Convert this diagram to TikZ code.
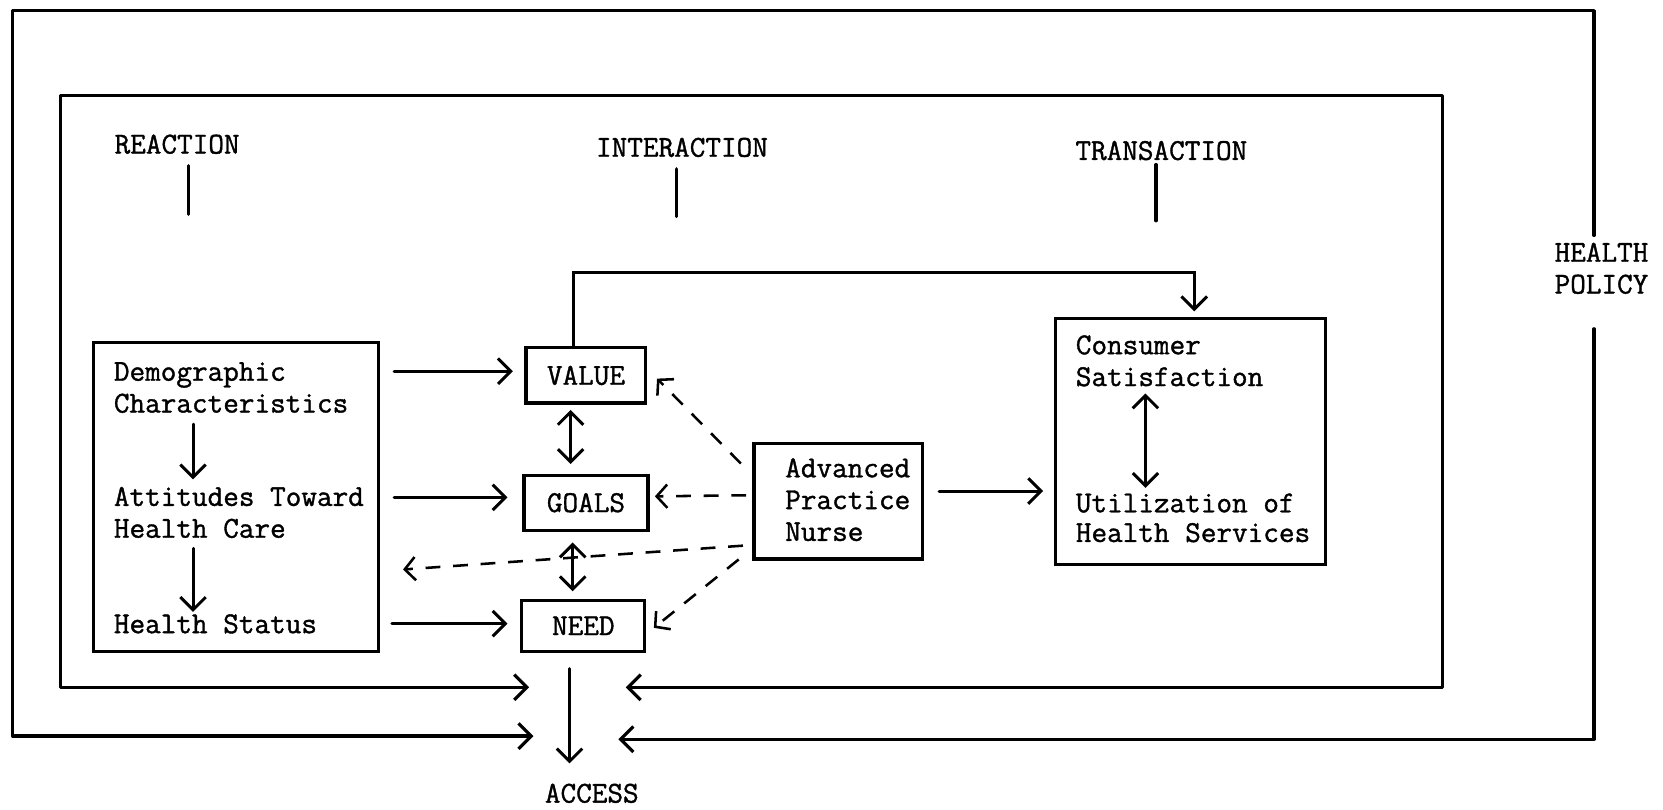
\documentclass[tikz,border=0pt]{standalone}
\usepackage{fontspec}
\setmonofont{Latin Modern Mono}[FakeBold=1.2]
\usetikzlibrary{arrows.meta,calc}
\begin{document}
\begin{tikzpicture}[x=0.5pt,y=-0.5pt,
  font=\ttfamily\fontsize{14.3}{15}\selectfont,
  frame/.style={line width=1.5pt, line join=round, line cap=round},
  box/.style={draw, line width=1.5pt, inner sep=0pt},
  txt/.style={anchor=base west, inner sep=0pt},
  arr/.style={line width=1.4pt, line cap=round, -{Straight Barb[length=6pt,width=12pt]}},
  darr/.style={line width=1.4pt, line cap=round, {Straight Barb[length=6pt,width=12pt]}-{Straight Barb[length=6pt,width=12pt]}},
  dsh/.style={line width=1.2pt, dash pattern=on 7pt off 6pt, -{Straight Barb[length=5pt,width=11pt]}}
]
\useasboundingbox (0,0) rectangle (1568,763);

% column labels
\node (reac) at (167,136) {REACTION};
\node (inter) at (643,139) {INTERACTION};
\node (trans) at (1095,142) {TRANSACTION};
\node[align=center] (hp) at (1510,253) {HEALTH\\POLICY};
\draw[frame] ($(reac.south)+(11,4)$) -- ++(0,46);
\draw[frame] ($(inter.south)+(-5,4)$) -- ++(0,45);
\draw[frame] ($(trans.south)+(-5,-3)$) -- ++(0,53);

% access
\node (acc) at (558,748) {ACCESS};

% frames (inner and outer)
\draw[frame, {Straight Barb[length=6pt,width=12pt]}-{Straight Barb[length=6pt,width=12pt]}]
  (499,648) -- (57,648) -- (57,90) -- (1360,90) -- (1360,648) -- (590,648);
\draw[frame, {Straight Barb[length=6pt,width=12pt]}-]
  (503,694) -- (12,694) -- (12,10) -- (1503,10) -- (1503,222);
\draw[frame, -{Straight Barb[length=6pt,width=12pt]}]
  (1503,310) -- (1503,697) -- (583,697);

% left box
\node[txt] (demo) at (107,359) {Demographic};
\node[txt] (char) at (107,389) {Characteristics};
\node[txt] (att) at (107,477) {Attitudes Toward};
\node[txt] (hc) at (107,507) {Health Care};
\node[txt] (hs) at (107,597) {Health Status};
\node[box, minimum width=134.5pt, minimum height=145.5pt] (L) at (222.5,468.5) {};
\draw[arr] ($(char.base west)+(75,11)$) -- ($(att.base west)+(75,-25)$);
\draw[arr] ($(hc.base west)+(75,10)$) -- ($(hs.base west)+(75,-20)$);

% middle boxes
\node[box, minimum width=56.5pt, minimum height=26pt] (V) at (552.5,354) {VALUE};
\node[box, minimum width=58.5pt, minimum height=26pt] (G) at (552.5,474) {GOALS};
\node[box, minimum width=58pt, minimum height=24pt] (N) at (550,590) {NEED};

\draw[arr] ($(L.east |- demo.base)+(13,-9)$) -- ($(V.west |- demo.base)+(-11,-9)$);
\draw[arr] ($(L.east |- att.base)+(13,-8)$) -- ($(G.west |- att.base)+(-14,-8)$);
\draw[arr] ($(L.east |- hs.base)+(11,-9)$) -- ($(N.west |- hs.base)+(-12,-9)$);

\draw[darr] ($(V.south)+(-14.5,5)$) -- ($(G.north)+(-14.5,-9)$);
\draw[darr] ($(G.south)+(-12.5,10)$) -- ($(N.north)+(-10,-7)$);

% advanced practice nurse
\node[txt] (adv) at (740,450) {Advanced};
\node[txt] (prac) at (740,480) {Practice};
\node[txt] (nur) at (740,510) {Nurse};
\node[box, minimum width=79.5pt, minimum height=54.5pt] (APN) at (790.5,472.5) {};

% consumer box
\node[txt] (cons) at (1014,334) {Consumer};
\node[txt] (sat) at (1014,364) {Satisfaction};
\node[txt] (util) at (1014,483) {Utilization of};
\node[txt] (hsv) at (1014,511) {Health Services};
\node[box, minimum width=127.5pt, minimum height=116pt] (CS) at (1122.5,416) {};
\draw[darr] ($(sat.base west)+(66,7)$) -- ($(util.base west)+(66,-23)$);

% connectors
\draw[arr] ($(V.north)+(-11.5,0)$) -- ++(0,-70) -| ($(CS.north)+(3.5,-5)$);
\draw[arr] ($(APN.east)+(14,-9.5)$) -- ($(CS.west |- APN.east)+(-10,-9.5)$);

% dashed influences
\coordinate (lt) at (380,537);
\draw[dsh] ($(APN.west)+(-11,-35.5)$) -- ($(V.east)+(9,3)$);
\draw[dsh] ($(APN.west)+(-6,-5.5)$) -- ($(G.east)+(5,-6)$);
\draw[dsh] ($(APN.south west)+(-9,-14)$) -- (lt);
\draw[dsh] ($(APN.south west)+(-13,-1)$) -- ($(N.east)+(7,2)$);

% access arrow
\draw[arr] ($(N.south)+(-13,15)$) -- ($(acc.north)+(-21,-12)$);
\end{tikzpicture}
\end{document}
